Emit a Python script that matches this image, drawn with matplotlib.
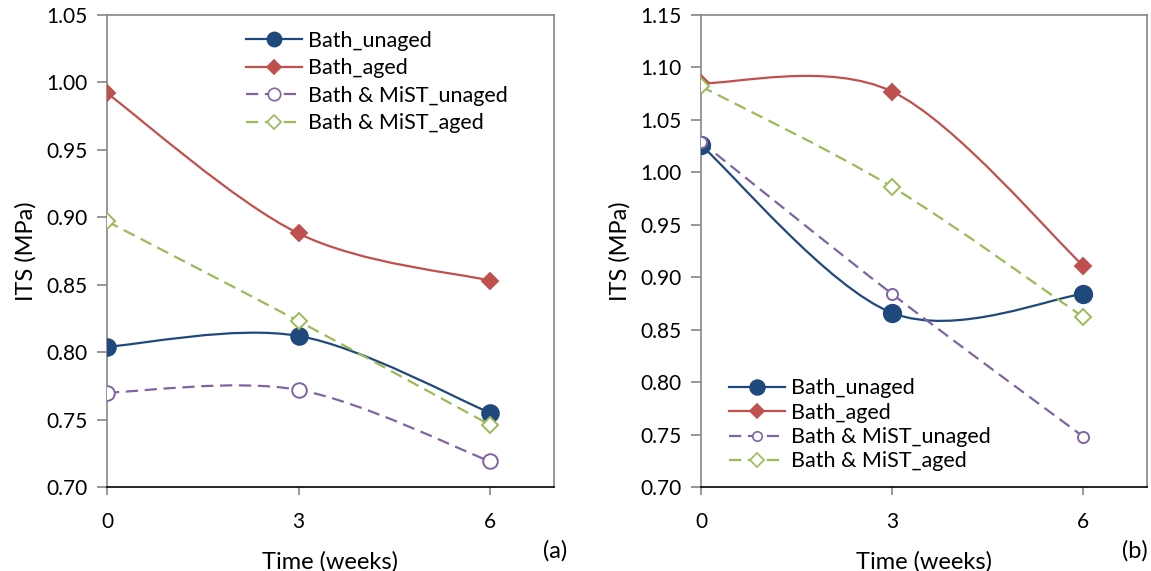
import matplotlib
matplotlib.use("Agg")
import matplotlib.pyplot as plt
from matplotlib.path import Path
from matplotlib.patches import PathPatch
from matplotlib.lines import Line2D

plt.rcParams['font.family'] = ['Lato', 'DejaVu Sans']

weeks = [0, 3, 6]
series_names = ["Bath_unaged", "Bath_aged", "Bath & MiST_unaged", "Bath & MiST_aged"]

# panel (a)
a_bath_unaged = [0.804, 0.812, 0.755]
a_bath_aged = [0.992, 0.888, 0.853]
a_mist_unaged = [0.770, 0.772, 0.719]
a_mist_aged = [0.897, 0.823, 0.746]

# panel (b)
b_bath_unaged = [1.026, 0.866, 0.884]
b_bath_aged = [1.085, 1.077, 0.911]
b_mist_unaged = [1.029, 0.884, 0.748]
b_mist_aged = [1.082, 0.986, 0.862]

a_yticks = [0.70, 0.75, 0.80, 0.85, 0.90, 0.95, 1.00, 1.05]
b_yticks = [0.70, 0.75, 0.80, 0.85, 0.90, 0.95, 1.00, 1.05, 1.10, 1.15]

BLUE = '#1F497D'
RED = '#C0504D'
PURPLE = '#8064A2'
GREEN = '#9BBB59'
GRAY = '#868686'
TICK_FS = 15
LABEL_FS = 17
LEG_FS = 15.5


def smooth_path(x, y):
    # excel-like smoothed line: catmull-rom as cubic bezier
    n = len(x)
    verts = [(x[0], y[0])]
    codes = [Path.MOVETO]
    for i in range(n - 1):
        i0 = max(i - 1, 0)
        i3 = min(i + 2, n - 1)
        c1 = (x[i] + (x[i + 1] - x[i0]) / 6, y[i] + (y[i + 1] - y[i0]) / 6)
        c2 = (x[i + 1] - (x[i3] - x[i]) / 6, y[i + 1] - (y[i3] - y[i]) / 6)
        verts += [c1, c2, (x[i + 1], y[i + 1])]
        codes += [Path.CURVE4] * 3
    return Path(verts, codes)


def draw_series(ax, y, color, marker, ms, filled, dashed):
    ls = (0, (5.5, 3)) if dashed else '-'
    patch = PathPatch(smooth_path(weeks, y), facecolor='none', edgecolor=color,
                      lw=1.6, linestyle=ls, transform=ax.transData, zorder=2)
    ax.add_patch(patch)
    ax.plot(weeks, y, linestyle='none', marker=marker, markersize=ms,
            markerfacecolor=color if filled else 'white',
            markeredgecolor=color, markeredgewidth=1.4, zorder=3)
    return Line2D([], [], color=color, lw=1.6, linestyle=ls, marker=marker,
                  markersize=ms * 0.85, markerfacecolor=color if filled else 'white',
                  markeredgecolor=color, markeredgewidth=1.2)


def style_axes(ax, yticks):
    ax.set_xlim(0, 7)
    ax.set_ylim(yticks[0], yticks[-1])
    ax.set_xticks(weeks)
    ax.set_xticklabels([str(w) for w in weeks])
    ax.set_yticks(yticks)
    ax.set_yticklabels([f"{t:.2f}" for t in yticks])
    for s in ['left', 'top', 'right']:
        ax.spines[s].set_color(GRAY)
        ax.spines[s].set_linewidth(1.2)
    ax.spines['bottom'].set_color('black')
    ax.spines['bottom'].set_linewidth(1.2)
    ax.tick_params(axis='y', direction='out', length=7, width=1.2, color=GRAY,
                   labelsize=TICK_FS, pad=7)
    ax.tick_params(axis='x', direction='out', length=6, width=1.2, color=GRAY,
                   labelsize=TICK_FS, pad=12)
    ax.set_ylabel("ITS (MPa)", fontsize=LABEL_FS, labelpad=7)
    ax.set_xlabel("Time (weeks)", fontsize=LABEL_FS, labelpad=14)


fig = plt.figure(figsize=(11.51, 5.71), dpi=100)
ax1 = fig.add_axes([107 / 1151, 1 - 487 / 571, 447 / 1151, 472 / 571])
ax2 = fig.add_axes([701 / 1151, 1 - 487 / 571, 446 / 1151, 472 / 571])

h = [
    draw_series(ax1, a_bath_unaged, BLUE, 'o', 12, True, False),
    draw_series(ax1, a_bath_aged, RED, 'D', 8.5, True, False),
    draw_series(ax1, a_mist_unaged, PURPLE, 'o', 10.5, False, True),
    draw_series(ax1, a_mist_aged, GREEN, 'D', 8.5, False, True),
]
style_axes(ax1, a_yticks)
ax1.legend(h, series_names, loc='upper left', bbox_to_anchor=(0.31, 0.967),
           frameon=False, fontsize=LEG_FS, handlelength=2.6, handletextpad=0.3,
           labelspacing=0.35, borderpad=0, borderaxespad=0)

h2 = [
    draw_series(ax2, b_bath_unaged, BLUE, 'o', 12.5, True, False),
    draw_series(ax2, b_bath_aged, RED, 'D', 8.5, True, False),
    draw_series(ax2, b_mist_unaged, PURPLE, 'o', 8, False, True),
    draw_series(ax2, b_mist_aged, GREEN, 'D', 8.5, False, True),
]
style_axes(ax2, b_yticks)
ax2.legend(h2, series_names, loc='upper left', bbox_to_anchor=(0.062, 0.23),
           frameon=False, fontsize=LEG_FS, handlelength=2.6, handletextpad=0.3,
           labelspacing=0.2, borderpad=0, borderaxespad=0)

fig.text(555 / 1151, 1 - 551 / 571, "(a)", fontsize=LABEL_FS, ha='center', va='center')
fig.text(1135 / 1151, 1 - 551 / 571, "(b)", fontsize=LABEL_FS, ha='center', va='center')

fig.savefig("out.png", dpi=100)
